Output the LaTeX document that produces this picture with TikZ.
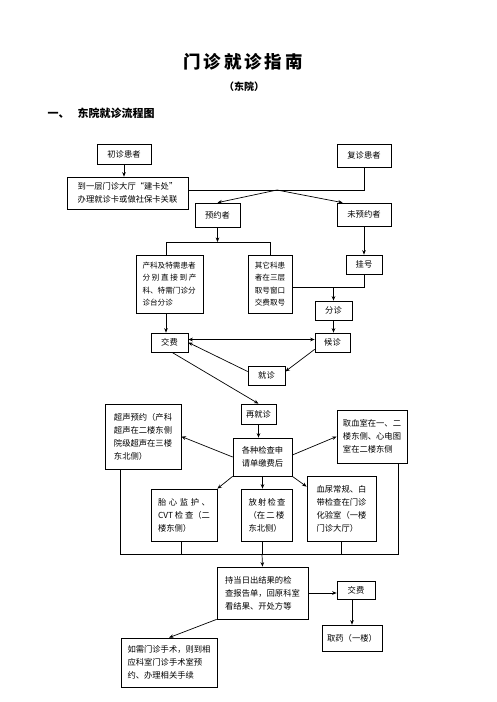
\documentclass[tikz,border=0pt]{standalone}
\usepackage{fontspec}
\setmainfont{Noto Sans CJK SC}
\usetikzlibrary{arrows.meta}
\newcommand\bodyfont{\fontsize{8.3}{13}\selectfont}
\newcommand\smallbody{\fontsize{7.6}{12.5}\selectfont}
\newcommand\jl[2]{\makebox[#1][s]{#2}}
\tikzset{
  box/.style={draw, line width=0.7pt, inner sep=0pt, align=left, font=\bodyfont},
  arr/.style={-{Stealth[length=4.5pt,width=3.6pt]}, line width=0.7pt},
  darr/.style={{Stealth[length=4.5pt,width=3.6pt]}-{Stealth[length=4.5pt,width=3.6pt]}, line width=0.7pt},
  ln/.style={line width=0.7pt}
}
\begin{document}
\begin{tikzpicture}[x=1pt,y=-1pt]
\useasboundingbox (0,0) rectangle (496,702);
% headings
\node[font=\fontsize{17.5}{20}\selectfont\bfseries] (title) at (243,62) {门\,诊\,就\,诊\,指\,南};
\node[font=\fontsize{10}{12}\selectfont\bfseries] (sub) at (244,87) {（东院）};
\node[font=\fontsize{11}{13}\selectfont\bfseries, anchor=west] (sec) at (44,113) {一、\hspace{8pt}东院就诊流程图};
% boxes
\node[box, minimum width=54, minimum height=20] (chuzhen) at (124,154) {初诊患者};
\node[box, minimum width=54, minimum height=23] (fuzhen) at (364,155.5) {复诊患者};
\node[box, minimum width=121, minimum height=32] (jianka) at (127.5,193) {到一层门诊大厅“建卡处”\\办理就诊卡或做社保卡关联};
\node[box, minimum width=45, minimum height=24] (yuyue) at (217.5,215) {预约者};
\node[box, minimum width=54, minimum height=23] (weiyuyue) at (364,214.5) {未预约者};
\node[box, minimum width=67, minimum height=58, font=\smallbody] (chanke) at (169.5,284) {\jl{54pt}{产科及特需患者}\\\jl{54pt}{分 别 直 接 到 产}\\\jl{54pt}{科、特需门诊分}\\诊台分诊};
\node[box, minimum width=44, minimum height=58, font=\smallbody] (qita) at (270,284) {其它科患\\者在三层\\取号窗口\\交费取号};
\node[box, minimum width=36, minimum height=19] (guahao) at (364,264.5) {挂号};
\node[box, minimum width=37, minimum height=19] (fenzhen) at (333.5,310.5) {分诊};
\node[box, minimum width=35, minimum height=19] (houzhen) at (332.5,342.5) {候诊};
\node[box, minimum width=37, minimum height=19] (jiaofei) at (169.5,342.5) {交费};
\node[box, minimum width=37, minimum height=19] (jiuzhen) at (266.5,375.5) {就诊};
\node[box, minimum width=35, minimum height=20] (zaijiuzhen) at (258.5,414) {再就诊};
\node[box, minimum width=59, minimum height=38] (jiancha) at (262.5,457) {各种检查申\\请单缴费后};
\node[box, minimum width=76, minimum height=65] (chaosheng) at (143,436.5) {超声预约（产科\\超声在二楼东侧\\院级超声在三楼\\东北侧）};
\node[box, minimum width=70, minimum height=53] (quxue) at (372,436.5) {取血室在一、二\\楼东侧、心电图\\室在二楼东侧};
\node[box, minimum width=66, minimum height=52] (taixin) at (184,515) {\jl{52pt}{胎 心 监 护 、}\\\jl{52pt}{CVT 检 查（二}\\楼东侧）};
\node[box, minimum width=51, minimum height=52] (fangshe) at (266.5,515) {\jl{36pt}{放 射 检 查}\\\jl{36pt}{（在 二 楼}\\东北侧）};
\node[box, minimum width=69, minimum height=65] (xueniao) at (341.5,508.5) {血尿常规、白\\带检查在门诊\\化验室（一楼\\门诊大厅）};
\node[box, minimum width=91, minimum height=52] (chidangri) at (262.5,593) {持当日出结果的检\\查报告单，回原科室\\看结果、开处方等};
\node[box, minimum width=38, minimum height=18] (jiaofei2) at (356,590) {交费};
\node[box, minimum width=60, minimum height=26] (quyao) at (352,638) {取药（一楼）};
\node[box, minimum width=96, minimum height=49] (shoushu) at (169,662.5) {如需门诊手术，则到相\\应科室门诊手术室预\\约、办理相关手续};
% helper coordinates
\coordinate (split) at (277,190);
\coordinate (bar) at (217,242);
\coordinate (frame) at (262,554);
\coordinate (gj) at (330,287);
% connectors
\draw[arr] (chuzhen.south) -- (chuzhen.south |- jianka.north);
\draw[ln] (fuzhen.south) -- (fuzhen.south |- split) -- (jianka.east |- split);
\draw[arr] (split) -- (yuyue.north);
\draw[arr] (split) -- ([xshift=6pt]weiyuyue.north west);
\draw[arr] (yuyue.south) -- (yuyue.south |- bar);
\draw[ln] ([xshift=-3.5pt]chanke.north) -- ([xshift=-3.5pt]chanke.north |- bar) -- (qita.north |- bar) -- (qita.north);
\draw[arr] (weiyuyue.south) -- (weiyuyue.south |- guahao.north);
\draw[ln] (guahao.south) -- (guahao.south |- gj) -- (qita.east |- gj);
\draw[arr] (fenzhen.north |- gj) -- (fenzhen.north);
\draw[arr] (fenzhen.south) -- (fenzhen.south |- houzhen.north);
\draw[arr] ([xshift=-3.5pt]chanke.south) -- ([xshift=-3.5pt]chanke.south |- jiaofei.north);
\draw[darr] ([yshift=3pt]jiaofei.east) -- ([yshift=3pt]houzhen.west);
\draw[arr] ([yshift=3pt]houzhen.south west) -- ([yshift=4pt]jiuzhen.east);
\draw[arr] ([yshift=4pt]jiuzhen.west) -- (jiaofei.east);
\draw[arr] ([xshift=2.5pt]jiaofei.south) -- (zaijiuzhen.north);
\draw[arr] (zaijiuzhen.south) -- (zaijiuzhen.south |- jiancha.north);
\draw[arr] (jiancha.west) -- (chaosheng.east);
\draw[arr] ([yshift=2pt]jiancha.east) -- (quxue.west);
\draw[arr] (jiancha.south west) -- (taixin.north east);
\draw[arr] (jiancha.south) -- (jiancha.south |- fangshe.north);
\draw[arr] (jiancha.south east) -- ([yshift=-11pt]xueniao.north west);
\draw[ln] ([xshift=16pt]chaosheng.south west) -- ([xshift=16pt]chaosheng.south west |- frame) -- ([xshift=-9pt]quxue.south east |- frame) -- ([xshift=-9pt]quxue.south east);
\draw[ln] ([xshift=-3pt]taixin.south) -- ([xshift=-3pt]taixin.south |- frame);
\draw[ln] (xueniao.south) -- (xueniao.south |- frame);
\draw[ln] ([xshift=-4pt]fangshe.south) -- ([xshift=-4pt]fangshe.south |- frame);
\draw[arr] (frame) -- (chidangri.north);
\draw[arr] (chidangri.east) -- (chidangri.east -| jiaofei2.west);
\draw[arr] (jiaofei2.south -| quyao.north) -- (quyao.north);
\draw[arr] (chidangri.south west) -- (shoushu.north);
\end{tikzpicture}
\end{document}
